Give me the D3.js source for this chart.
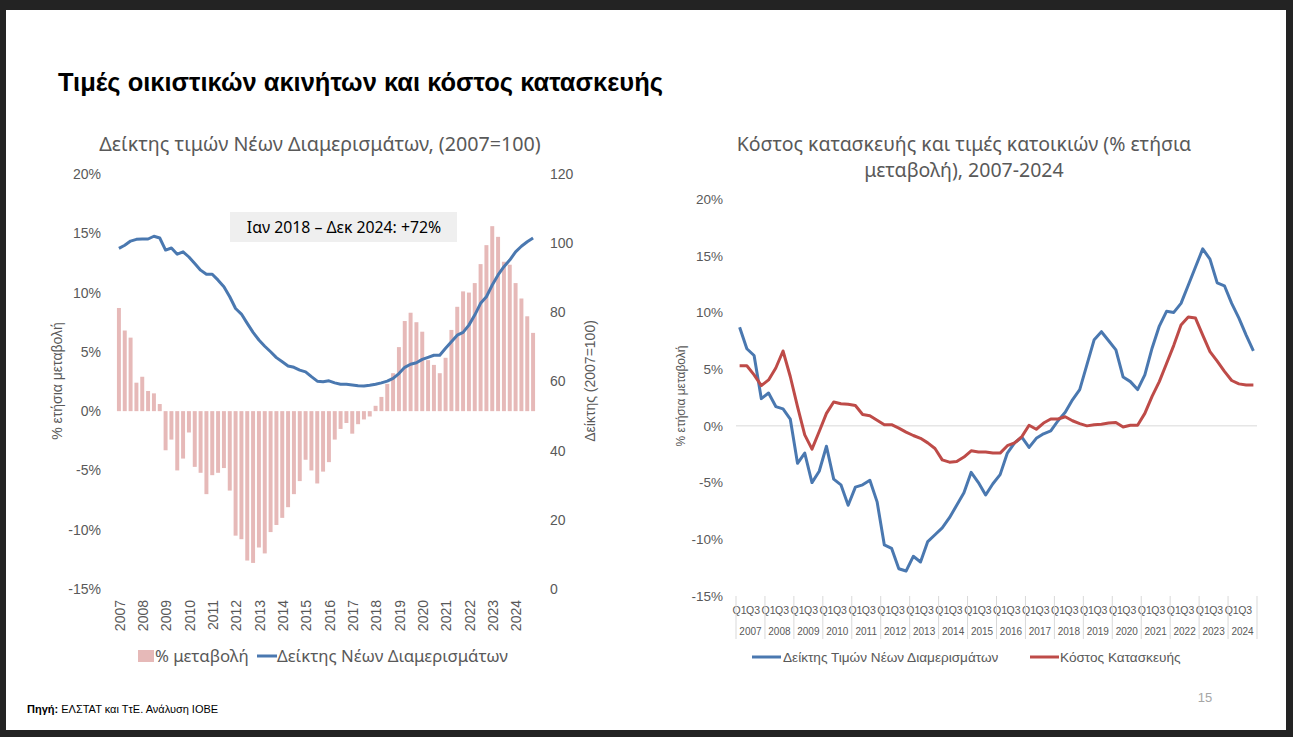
<!DOCTYPE html>
<html>
<head>
<meta charset="utf-8">
<script src="https://cdn.jsdelivr.net/npm/d3@7"></script>
<style>
  html, body { margin: 0; padding: 0; background: #232323; }
  svg { display: block; }
  text { font-family: "Liberation Sans", Arial, sans-serif; }
  .wide { font-family: "Noto Sans", "Open Sans", sans-serif; }
</style>
</head>
<body>
<svg id="chart" width="1293" height="737"></svg>
<script>
// ---------- DATA ----------
const years = [2007,2008,2009,2010,2011,2012,2013,2014,2015,2016,2017,2018,2019,2020,2021,2022,2023,2024];
const quarterLabels = ["Q1","Q2","Q3","Q4"];
// Annual % change of new apartment price index (quarterly)
const priceChange = [
  8.7, 6.8, 6.2, 2.4, 2.9, 1.7, 1.5, 0.6,
  -3.3, -2.4, -5.0, -4.0, -1.8, -4.7, -5.2, -7.0,
  -5.4, -5.2, -4.8, -6.7, -10.5, -10.8, -12.6, -12.8,
  -11.5, -12.0, -10.2, -9.6, -9.0, -8.1, -7.0, -5.9,
  -4.1, -5.0, -6.1, -5.1, -4.3, -2.4, -1.5, -1.0,
  -1.9, -1.1, -0.7, -0.45, 0.45, 1.2, 2.3, 3.2,
  5.4, 7.6, 8.3, 7.5, 6.7, 4.3, 3.9, 3.2,
  4.5, 6.85, 8.8, 10.1, 10.0, 10.8, 12.4, 14.0,
  15.6, 14.7, 12.6, 12.35, 10.8, 9.5, 8.0, 6.6
];
// New apartment price index (2007=100), quarterly
const priceIndex = [
  98.5, 99.4, 100.6, 101.1, 101.2, 101.2, 102.0, 101.5,
  98.0, 98.6, 96.8, 97.5, 96.0, 94.1, 92.2, 91.0,
  91.0, 89.3, 87.4, 84.5, 81.1, 79.5, 76.8, 74.2,
  72.0, 70.2, 68.6, 66.9, 65.7, 64.5, 64.1, 63.3,
  62.8, 61.4, 60.1, 59.9, 60.2, 59.6, 59.2, 59.2,
  59.0, 58.8, 58.7, 58.9, 59.2, 59.6, 60.1, 60.9,
  62.3, 64.1, 65.0, 65.4, 66.4, 67.0, 67.6, 67.6,
  69.6, 71.5, 73.4, 74.2, 76.3, 79.2, 82.6, 84.5,
  87.9, 90.8, 93.2, 95.1, 97.5, 99.1, 100.4, 101.5
];
// Construction cost, annual % change (quarterly)
const constructionCost = [
  5.3, 5.3, 4.5, 3.55, 4.05, 5.1, 6.6, 4.35,
  1.7, -0.8, -2.05, -0.5, 1.1, 2.1, 1.95, 1.9,
  1.8, 1.0, 0.9, 0.5, 0.1, 0.1, -0.2, -0.55,
  -0.85, -1.1, -1.5, -2.0, -3.0, -3.2, -3.15, -2.75,
  -2.2, -2.3, -2.3, -2.4, -2.4, -1.75, -1.5, -0.95,
  0.05, -0.3, 0.25, 0.6, 0.6, 0.8, 0.45, 0.2,
  0.0, 0.1, 0.15, 0.25, 0.3, -0.1, 0.05, 0.05,
  1.1, 2.6, 3.9, 5.5, 7.1, 8.9, 9.6, 9.5,
  8.0, 6.55, 5.7, 4.8, 4.0, 3.7, 3.6, 3.6
];
const pctTicks = [-15,-10,-5,0,5,10,15,20];
const indexTicks = [0,20,40,60,80,100,120];

const quarters = [];
years.forEach(y => quarterLabels.forEach(q => quarters.push(y + q)));

// ---------- STYLE ----------
const cBar = "#E6B9B8", cBlue = "#4A78B0", cRed = "#BE4B48", cText = "#595959";

const svg = d3.select("#chart");
svg.append("rect").attr("x",6).attr("y",10).attr("width",1280).attr("height",720).attr("fill","#fff");

// Main title
svg.append("text").attr("x",58).attr("y",91).attr("font-size",25.5).attr("font-weight","bold")
  .attr("fill","#000").text("Τιμές οικιστικών ακινήτων και κόστος κατασκευής");

// ================= LEFT CHART =================
const L = svg.append("g");
const xL = d3.scaleBand().domain(quarters).range([116, 536]).paddingInner(0.32).paddingOuter(0.16);
const yL = d3.scaleLinear().domain([-15, 20]).range([589, 174]);
const yIdx = d3.scaleLinear().domain([0, 120]).range([589, 174]);

L.append("text").attr("class","wide").attr("x",320).attr("y",151).attr("text-anchor","middle").attr("font-size",19.7)
  .attr("fill",cText).text("Δείκτης τιμών Νέων Διαμερισμάτων, (2007=100)");

// bars
L.selectAll("rect.bar").data(priceChange).join("rect").attr("class","bar")
  .attr("x",(d,i)=>xL(quarters[i]))
  .attr("width",xL.bandwidth())
  .attr("y",d=>yL(Math.max(0,d)))
  .attr("height",d=>Math.abs(yL(d)-yL(0)))
  .attr("fill",cBar);

// index line
const lineL = d3.line().x((d,i)=>xL(quarters[i])+xL.bandwidth()/2).y(d=>yIdx(d));
L.append("path").datum(priceIndex).attr("d",lineL).attr("fill","none")
  .attr("stroke",cBlue).attr("stroke-width",3).attr("stroke-linejoin","round");

// axes
const axL = L.append("g").attr("transform","translate(105,0)")
  .call(d3.axisLeft(yL).tickValues(pctTicks).tickFormat(d=>d+"%").tickSize(0).tickPadding(4));
axL.select(".domain").remove();
axL.selectAll("text").attr("font-size",14).attr("fill",cText).attr("font-family","Liberation Sans, Arial");
const axR = L.append("g").attr("transform","translate(546,0)")
  .call(d3.axisRight(yIdx).tickValues(indexTicks).tickSize(0).tickPadding(4));
axR.select(".domain").remove();
axR.selectAll("text").attr("font-size",14).attr("fill",cText).attr("font-family","Liberation Sans, Arial");

// year labels rotated
L.selectAll("text.yr").data(years).join("text").attr("class","yr")
  .attr("transform",d=>`translate(${xL(d+"Q1")+xL.bandwidth()/2+1},600) rotate(-90)`)
  .attr("text-anchor","end").attr("dy","0.35em").attr("font-size",14).attr("fill",cText).text(d=>d);

// axis titles
L.append("text").attr("transform","translate(57,381) rotate(-90)").attr("text-anchor","middle")
  .attr("dy","0.35em").attr("font-size",14).attr("fill",cText).text("% ετήσια μεταβολή");
L.append("text").attr("transform","translate(590,381) rotate(-90)").attr("text-anchor","middle")
  .attr("dy","0.35em").attr("font-size",14).attr("fill",cText).text("Δείκτης (2007=100)");

// annotation
L.append("rect").attr("x",230).attr("y",212).attr("width",227).attr("height",30).attr("fill","#EFEFEF");
L.append("text").attr("class","wide").attr("x",344).attr("y",227).attr("dy","0.35em").attr("text-anchor","middle")
  .attr("font-size",15.8).attr("fill","#000").text("Ιαν 2018 – Δεκ 2024: +72%");

// legend
L.append("rect").attr("x",138).attr("y",650).attr("width",16).attr("height",12).attr("fill",cBar);
L.append("text").attr("class","wide").attr("x",155).attr("y",656).attr("dy","0.35em").attr("font-size",16.8).attr("fill",cText).text("% μεταβολή");
L.append("line").attr("x1",257).attr("x2",277).attr("y1",656).attr("y2",656).attr("stroke",cBlue).attr("stroke-width",3);
L.append("text").attr("class","wide").attr("x",277).attr("y",656).attr("dy","0.35em").attr("font-size",16.8).attr("fill",cText).text("Δείκτης Νέων Διαμερισμάτων");

// ================= RIGHT CHART =================
const R = svg.append("g");
const xR = d3.scaleBand().domain(quarters).range([736, 1257]);
const yR = d3.scaleLinear().domain([-15, 20]).range([596, 199]);

R.append("text").attr("class","wide").attr("x",964).attr("y",151).attr("text-anchor","middle").attr("font-size",19.5)
  .attr("fill",cText).text("Κόστος κατασκευής και τιμές κατοικιών (% ετήσια");
R.append("text").attr("class","wide").attr("x",964).attr("y",177).attr("text-anchor","middle").attr("font-size",19.5)
  .attr("fill",cText).text("μεταβολή), 2007-2024");

const ayR = R.append("g").attr("transform","translate(727,0)")
  .call(d3.axisLeft(yR).tickValues(pctTicks).tickFormat(d=>d+"%").tickSize(0).tickPadding(4));
ayR.select(".domain").remove();
ayR.selectAll("text").attr("font-size",13.5).attr("fill",cText).attr("font-family","Liberation Sans, Arial");

R.append("line").attr("x1",736).attr("x2",1257).attr("y1",yR(0)).attr("y2",yR(0))
  .attr("stroke","#D9D9D9").attr("stroke-width",1);

R.append("text").attr("transform","translate(681,396) rotate(-90)").attr("text-anchor","middle")
  .attr("dy","0.35em").attr("font-size",12).attr("fill",cText).text("% ετήσια μεταβολή");

// x axis: quarter labels, year labels, separators
const qShown = quarters.filter((q,i)=>i%2===0);
R.selectAll("text.q").data(qShown).join("text").attr("class","q")
  .attr("x",d=>xR(d)+xR.bandwidth()/2+ (d.endsWith("Q3")? -1:0)).attr("y",610).attr("dy","0.35em")
  .attr("text-anchor","middle").attr("font-size",10.5).attr("fill",cText).text(d=>d.slice(4));
R.selectAll("text.ry").data(years).join("text").attr("class","ry")
  .attr("x",d=>xR(d+"Q1")+xR.bandwidth()*2).attr("y",631).attr("dy","0.35em")
  .attr("text-anchor","middle").attr("font-size",10).attr("fill",cText).text(d=>d);
R.selectAll("line.sep").data(years.concat([null])).join("line").attr("class","sep")
  .attr("x1",(d,i)=>i<years.length? xR(d+"Q1") : xR.range()[1])
  .attr("x2",(d,i)=>i<years.length? xR(d+"Q1") : xR.range()[1])
  .attr("y1",596).attr("y2",639).attr("stroke","#D9D9D9").attr("stroke-width",1);

// lines
const lineR = d3.line().x((d,i)=>xR(quarters[i])+xR.bandwidth()/2).y(d=>yR(d));
R.append("path").datum(priceChange).attr("d",lineR).attr("fill","none")
  .attr("stroke",cBlue).attr("stroke-width",3).attr("stroke-linejoin","round");
R.append("path").datum(constructionCost).attr("d",lineR).attr("fill","none")
  .attr("stroke",cRed).attr("stroke-width",3).attr("stroke-linejoin","round");

// legend
R.append("line").attr("x1",752).attr("x2",781).attr("y1",657).attr("y2",657).attr("stroke",cBlue).attr("stroke-width",3);
R.append("text").attr("x",783).attr("y",657).attr("dy","0.35em").attr("font-size",13.6).attr("fill",cText).text("Δείκτης Τιμών Νέων Διαμερισμάτων");
R.append("line").attr("x1",1030).attr("x2",1059).attr("y1",657).attr("y2",657).attr("stroke",cRed).attr("stroke-width",3);
R.append("text").attr("x",1060).attr("y",657).attr("dy","0.35em").attr("font-size",13.6).attr("fill",cText).text("Κόστος Κατασκευής");

// page number + source
svg.append("text").attr("x",1205).attr("y",697).attr("dy","0.35em").attr("text-anchor","middle")
  .attr("font-size",13).attr("fill","#A6A6A6").text("15");
const src = svg.append("text").attr("x",27).attr("y",709).attr("dy","0.35em").attr("font-size",11).attr("fill","#000");
src.append("tspan").attr("font-weight","bold").text("Πηγή:");
src.append("tspan").text(" ΕΛΣΤΑΤ και ΤτΕ. Ανάλυση ΙΟΒΕ");
</script>
</body>
</html>
